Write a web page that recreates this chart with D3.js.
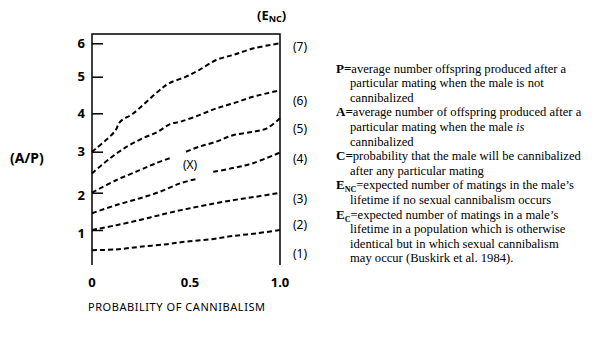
<!DOCTYPE html>
<html><head><meta charset="utf-8">
<script src="https://cdn.jsdelivr.net/npm/d3@7"></script>
<style>body{margin:0;background:#fff}svg{display:block}</style>
</head><body>
<svg id="c" width="598" height="340"></svg>
<script>
// ---- data ----
const yTicks = [1, 2, 3, 4, 5, 6];
const xTicks = [0, 0.5, 1.0];
const xTickLabels = ["0", "0.5", "1.0"];
const curve7 = [[0,3.0],[0.12,3.52],[0.15,3.78],[0.22,4.0],[0.35,4.59],[0.41,4.82],[0.5,5.0],[0.57,5.2],[0.66,5.5],[0.75,5.65],[0.86,5.85],[1.0,6.0]];
const curve6 = [[0,2.47],[0.096,2.84],[0.185,3.13],[0.27,3.35],[0.35,3.52],[0.415,3.72],[0.47,3.78],[0.574,3.96],[0.665,4.14],[0.75,4.27],[0.856,4.45],[1.0,4.63]];
const curve5a = [[0,2.0],[0.13,2.31],[0.255,2.55],[0.34,2.72],[0.42,2.85]];
const curve5b = [[0.5,3.0],[0.57,3.13],[0.66,3.26],[0.75,3.43],[0.86,3.52],[0.93,3.61],[1.0,3.87]];
const curve4a = [[0,1.45],[0.13,1.67],[0.255,1.85],[0.36,2.02],[0.47,2.23],[0.55,2.33]];
const curve4b = [[0.645,2.51],[0.75,2.6],[0.857,2.72],[1.0,2.98]];
const curve3 = [[0,1.0],[0.13,1.13],[0.255,1.27],[0.36,1.40],[0.48,1.54],[0.61,1.67],[0.75,1.80],[0.87,1.89],[1.0,2.0]];
const curve2 = [[0,0.46],[0.13,0.48],[0.255,0.55],[0.40,0.62],[0.50,0.69],[0.63,0.75],[0.75,0.84],[0.876,0.91],[1.0,1.0]];
const endLabels = ["(7)","(6)","(5)","(4)","(3)","(2)","(1)"];
const endLabelValues = [5.9, 4.35, 3.6, 2.82, 1.83, 1.13, 0.36];
const legendLines = [
  {b:"P=", t:"average number offspring produced after  a"},
  {i:true, t:"particular mating when the male is not"},
  {i:true, t:"cannibalized"},
  {b:"A=", t:"average number of offspring produced after a"},
  {i:true, t:"particular mating when the male ", it:"is"},
  {i:true, t:"cannibalized"},
  {b:"C=", t:"probability that the male will be cannibalized"},
  {i:true, t:"after any particular mating"},
  {b:"E", sub:"NC", t:"=expected number of matings in the male\u2019s"},
  {i:true, t:"lifetime if no sexual cannibalism occurs"},
  {b:"E", sub:"C", t:"=expected number of matings in a male\u2019s"},
  {i:true, t:"lifetime in a population which is otherwise"},
  {i:true, t:"identical but in which sexual cannibalism"},
  {i:true, t:"may occur (Buskirk et al. 1984)."}
];

// ---- drawing ----
const svg = d3.select("#c");
const x = d3.scaleLinear().domain([0, 1]).range([92, 280]);
const y = d3.scaleLinear().domain(yTicks).range([230, 192.7, 151.7, 113.3, 76.7, 43.3]);
const yTop = 34, yBottom = 265;

// frame
const frame = svg.append("g").attr("stroke", "#000").attr("stroke-width", 1.5).attr("fill", "none");
frame.append("path").attr("d", `M${x(0)},${yBottom}V${yTop}H${x(1)}V${yBottom}`);

// y axis ticks
const yAxis = d3.axisRight(y).tickValues(yTicks).tickSize(11).tickFormat("");
const gy = svg.append("g").attr("transform", `translate(${x(0)},0)`).call(yAxis);
gy.select(".domain").remove();
gy.selectAll(".tick line").attr("stroke", "#000").attr("stroke-width", 1.5);
svg.append("g").selectAll("text").data(yTicks).join("text")
  .attr("x", 85).attr("y", d => y(d) + (d < 3 ? 3 : 0)).attr("dy", "0.36em")
  .attr("text-anchor", "end").attr("font-family", "Noto Sans, sans-serif")
  .attr("font-weight", "bold").attr("font-size", 13).text(d => d);

// x tick labels
svg.append("g").selectAll("text").data(xTicks).join("text")
  .attr("x", (d, i) => x(d) + (i === 1 ? 4 : 0)).attr("y", 282).attr("dy", "0.36em")
  .attr("text-anchor", "middle").attr("font-family", "Noto Sans, sans-serif")
  .attr("font-weight", "bold").attr("font-size", 13).text((d, i) => xTickLabels[i]);

// x title
svg.append("text").attr("x", 88).attr("y", 311).attr("textLength", 177)
  .attr("font-family", "Noto Sans, sans-serif").attr("font-size", 11)
  .text("PROBABILITY OF CANNIBALISM");

// y title
svg.append("text").attr("x", 10).attr("y", 158).attr("dy", "0.36em")
  .attr("font-family", "Noto Sans, sans-serif").attr("font-weight", "bold").attr("font-size", 14)
  .text("(A/P)");

// E_NC title
const et = svg.append("text").attr("x", 257).attr("y", 15).attr("dy", "0.36em")
  .attr("font-family", "Noto Sans, sans-serif").attr("font-weight", "bold").attr("font-size", 13);
et.append("tspan").text("(E");
et.append("tspan").attr("font-size", 9).attr("dy", 2).text("NC");
et.append("tspan").attr("dy", -2).text(")");

// curves
const line = d3.line().x(d => x(d[0])).y(d => y(d[1])).curve(d3.curveCatmullRom.alpha(0.5));
const curves = [curve7, curve6, curve5a, curve5b, curve4a, curve4b, curve3, curve2];
svg.append("g").selectAll("path").data(curves).join("path")
  .attr("d", line).attr("fill", "none").attr("stroke", "#000")
  .attr("stroke-width", 2).attr("stroke-dasharray", "5,3");

// (X)
svg.append("text").attr("x", 190).attr("y", 165).attr("dy", "0.36em").attr("text-anchor", "middle")
  .attr("font-family", "Noto Sans, sans-serif").attr("font-size", 12).text("(X)");

// end labels
svg.append("g").selectAll("text").data(endLabels).join("text")
  .attr("x", 293).attr("y", (d, i) => y(endLabelValues[i])).attr("dy", "0.36em")
  .attr("font-family", "Noto Sans, sans-serif").attr("font-size", 12).text(d => d);

// legend
const lg = svg.append("g").attr("font-family", "Liberation Serif, Times New Roman, serif").attr("font-size", 12.6);
legendLines.forEach((l, i) => {
  const t = lg.append("text").attr("x", l.i ? 350 : 336).attr("y", 68 + i * 14.6).attr("dy", "0.36em");
  if (l.b) t.append("tspan").attr("font-weight", "bold").attr("font-size", 13).text(l.b);
  if (l.sub) t.append("tspan").attr("font-weight", "bold").attr("font-size", 8).attr("dy", 3).text(l.sub);
  const m = t.append("tspan").text(l.t);
  if (l.sub) m.attr("dy", -3);
  if (l.it) t.append("tspan").attr("font-style", "italic").text(l.it);
});
</script>
</body></html>
